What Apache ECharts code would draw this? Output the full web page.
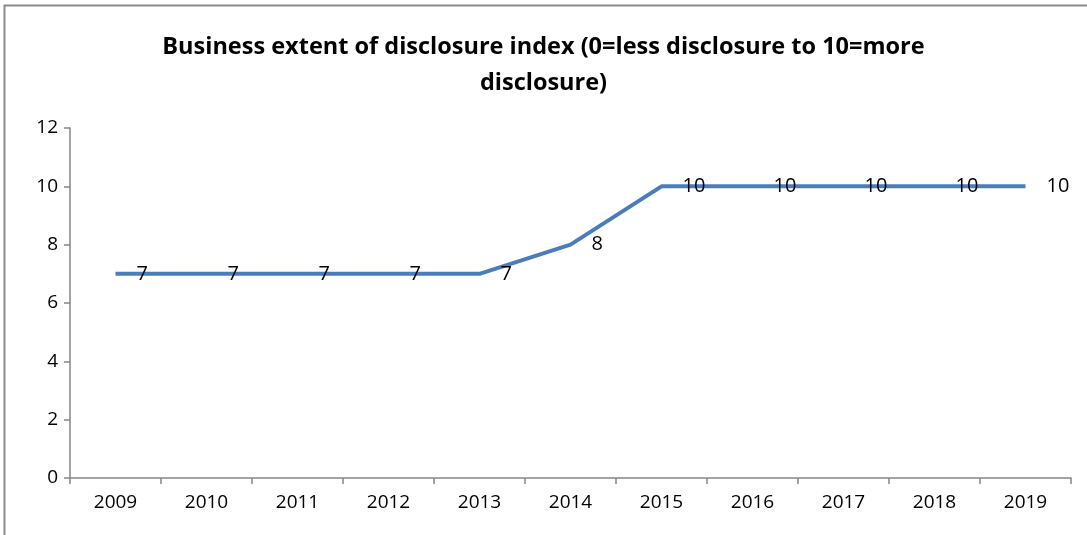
<!DOCTYPE html>
<html>
<head>
<meta charset="utf-8">
<script src="https://cdn.jsdelivr.net/npm/echarts@6/dist/echarts.min.js"></script>
<style>
  html, body { margin: 0; padding: 0; background: #fff; }
  #chart { width: 1087px; height: 535px; }
</style>
</head>
<body>
<div id="chart"></div>
<script>
// Business extent of disclosure index, 2009–2019
const years = ['2009', '2010', '2011', '2012', '2013', '2014', '2015', '2016', '2017', '2018', '2019'];
const disclosureIndex = [7, 7, 7, 7, 7, 8, 10, 10, 10, 10, 10];
const titleText = 'Business extent of disclosure index (0=less disclosure to 10=more\ndisclosure)';

const chart = echarts.init(document.getElementById('chart'));
const axisGray = '#868686';
const font = '"Open Sans", "Noto Sans", sans-serif';

chart.setOption({
  backgroundColor: '#ffffff',
  animation: false,
  title: {
    text: titleText,
    left: 'center',
    top: 24,
    textStyle: {
      fontFamily: font,
      fontWeight: 'bold',
      fontSize: 23.5,
      lineHeight: 36,
      color: '#000'
    }
  },
  graphic: [{
    type: 'rect',
    shape: { x: 4.5, y: 5.5, width: 1100, height: 600 },
    style: { fill: 'none', stroke: '#8c8c8c', lineWidth: 2 },
    silent: true
  }],
  grid: { left: 70, right: 16, top: 128, bottom: 57 },
  xAxis: {
    type: 'category',
    data: years,
    boundaryGap: true,
    axisLine: { lineStyle: { color: axisGray, width: 1.5 } },
    axisTick: { show: true, length: 6, lineStyle: { color: axisGray, width: 1.5 } },
    axisLabel: { color: '#000', fontSize: 19, fontFamily: font, margin: 15 }
  },
  yAxis: {
    type: 'value',
    min: 0,
    max: 12,
    interval: 2,
    splitLine: { show: false },
    axisLine: { show: true, lineStyle: { color: axisGray, width: 1.5 } },
    axisTick: { show: true, length: 6, lineStyle: { color: axisGray, width: 1.5 } },
    axisLabel: { color: '#000', fontSize: 19, fontFamily: font, margin: 12 }
  },
  series: [{
    type: 'line',
    data: disclosureIndex,
    symbol: 'circle',
    symbolSize: 2,
    showSymbol: true,
    itemStyle: { color: 'rgba(74,126,187,0)', borderWidth: 0 },
    lineStyle: { color: '#4a7ebb', width: 4 },
    labelLayout: { hideOverlap: false },
    label: {
      show: true,
      position: 'right',
      distance: 20,
      offset: [0, 3],
      color: '#000',
      fontSize: 20,
      fontFamily: font
    },
    z: 3
  }]
});
</script>
</body>
</html>
